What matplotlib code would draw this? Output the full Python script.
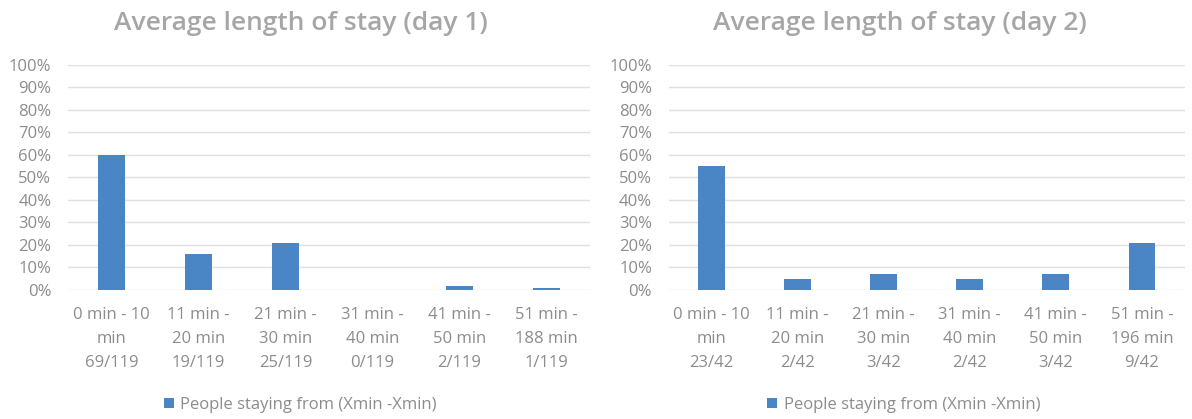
import matplotlib.pyplot as plt
from matplotlib.ticker import PercentFormatter

plt.rcParams['font.family'] = ['Open Sans', 'DejaVu Sans']

# ---------- data ----------
day1_labels = ["0 min - 10\nmin\n69/119", "11 min -\n20 min\n19/119", "21 min -\n30 min\n25/119",
               "31 min -\n40 min\n0/119", "41 min -\n50 min\n2/119", "51 min -\n188 min\n1/119"]
day1_values = [0.60, 0.16, 0.21, 0.0, 0.017, 0.008]

day2_labels = ["0 min - 10\nmin\n23/42", "11 min -\n20 min\n2/42", "21 min -\n30 min\n3/42",
               "31 min -\n40 min\n2/42", "41 min -\n50 min\n3/42", "51 min -\n196 min\n9/42"]
day2_values = [0.55, 0.05, 0.07, 0.05, 0.07, 0.21]

titles = ["Average length of stay (day 1)", "Average length of stay (day 2)"]
series_name = "People staying from (Xmin -Xmin)"

bar_color = "#4A86C6"
text_gray = "#8C8C8C"
grid_gray = "#E0E0E0"

fig = plt.figure(figsize=(11.92, 4.19), dpi=100)

# axes boxes in figure fractions (left, bottom, width, height)
boxes = [[0.057, 0.308, 0.438, 0.537], [0.561, 0.308, 0.433, 0.537]]
panels = [(day1_labels, day1_values), (day2_labels, day2_values)]
title_x = [0.252, 0.755]    # title centre, figure fraction
legend_x = [0.445, 0.455]

for i, (box, (labels, values), title) in enumerate(zip(boxes, panels, titles)):
    ax = fig.add_axes(box)
    x = range(len(values))
    ax.bar(x, values, width=0.31, color=bar_color, label=series_name, zorder=3)
    ax.set_xlim(-0.5, len(values) - 0.5)
    ax.set_ylim(0, 1.0)
    ax.set_yticks([k / 10 for k in range(11)])
    ax.yaxis.set_major_formatter(PercentFormatter(1.0, decimals=0))
    ax.set_xticks(list(x))
    ax.set_xticklabels(labels, linespacing=1.7)
    ax.tick_params(axis='both', length=0, colors=text_gray, labelsize=12)
    ax.tick_params(axis='x', pad=12)
    ax.tick_params(axis='y', pad=12)
    ax.grid(axis='y', color=grid_gray, linewidth=1, zorder=0)
    for s in ax.spines.values():
        s.set_visible(False)
    fig.text(title_x[i], 0.945, title, ha='center', va='center',
             color="#A6A6A6", fontsize=19, fontweight='semibold')
    ax.legend(loc='center', bbox_to_anchor=(legend_x[i], -0.51), frameon=False,
              handlelength=0.6, handleheight=0.6, handletextpad=0.4,
              labelcolor=text_gray, fontsize=12)

fig.savefig("out.png", dpi=100)
